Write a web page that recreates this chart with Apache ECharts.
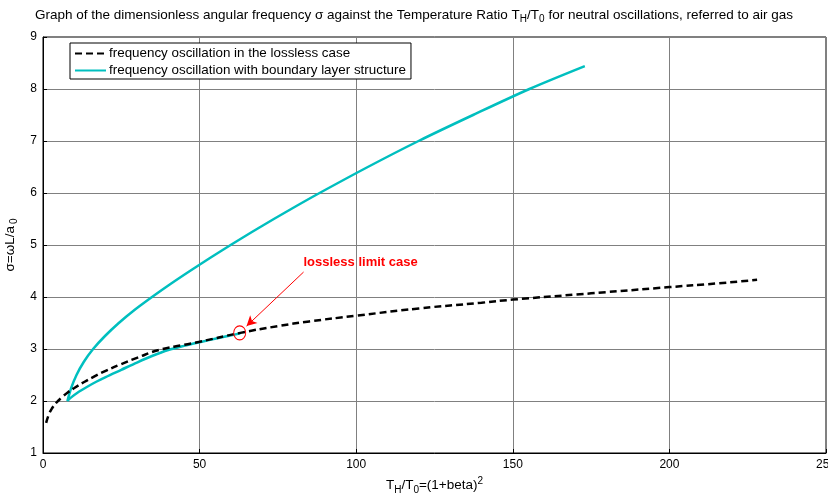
<!DOCTYPE html>
<html><head><meta charset="utf-8">
<script src="https://cdn.jsdelivr.net/npm/echarts@6/dist/echarts.min.js"></script>
<style>html,body{margin:0;padding:0;background:#fff}#c{width:828px;height:493px}</style>
</head><body><div id="c"></div>
<script>
// T_H/T_0 and sigma, lossless case
const losslessT = [1,2,3,4,6,8,10,13,16,20,25,30,37,45,50,63,75,85,100,120,140,150,175,200,215,228];
const losslessS = [1.58,1.76,1.87,1.95,2.07,2.17,2.25,2.36,2.46,2.58,2.71,2.83,2.98,3.08,3.14,3.31,3.44,3.53,3.64,3.78,3.89,3.95,4.07,4.19,4.26,4.33];
// boundary layer: upper branch (from cusp outward)
const upperT = [7.8,9.0,10.7,13.0,16.0,19.8,24.2,29.2,34.8,40.7,46.9,53.3,59.9,66.7,73.7,80.9,88.3,103.7,119.9,137.3,155.3,173];
const upperS = [2.0,2.25,2.5,2.75,3.0,3.25,3.5,3.75,4.0,4.25,4.5,4.75,5.0,5.25,5.5,5.75,6.0,6.5,7.0,7.5,8.0,8.44];
// boundary layer: lower branch (from cusp to lossless limit)
const lowerT = [7.8,9,11,14,17,20,25,30,35,40,45,50,56,63];
const lowerS = [2.0,2.07,2.16,2.27,2.37,2.46,2.6,2.74,2.87,2.98,3.06,3.13,3.21,3.3];
const xTicks = [0,50,100,150,200,250];
const yTicks = [1,2,3,4,5,6,7,8,9];
const limitPoint = [62.8,3.31];
const annotText = 'lossless limit case';
const annotTextPos = [101.4,4.67];
const arrowFrom = [83.2,4.48];
const arrowTo = [65,3.44];

const lossless = losslessT.map((t,i)=>[t,losslessS[i]]);
const boundary = upperT.map((t,i)=>[t,upperS[i]]).reverse()
  .concat(lowerT.slice(1).map((t,i)=>[t,lowerS[i+1]]));

const F = 'Liberation Sans, Arial, sans-serif';
const chart = echarts.init(document.getElementById('c'));
chart.setOption({
  animation:false,
  textStyle:{fontFamily:F},
  title:{
    left:'center', top:1,
    text:'{a|Graph of the dimensionless angular frequency σ against the Temperature Ratio T}{s|H}{a|/T}{s|0}{a| for neutral oscillations, referred to air gas}',
    textStyle:{fontFamily:F, fontWeight:'normal', rich:{
      a:{fontSize:13.5,color:'#000',fontFamily:F,fontWeight:'normal',lineHeight:18},
      s:{fontSize:10,color:'#000',fontFamily:F,fontWeight:'normal',lineHeight:18,padding:[9,0,0,0]}
    }}
  },
  legend:{
    orient:'vertical', left:70, top:43,
    backgroundColor:'#fff', borderColor:'#000', borderWidth:1,
    padding:[4,5,2,4], itemGap:4, itemWidth:31, itemHeight:14,
    itemStyle:{opacity:0},
    textStyle:{fontSize:13.4,color:'#000',fontFamily:F, padding:[0,0,0,-2]},
    data:['frequency oscillation in the lossless case','frequency oscillation with boundary layer structure']
  },
  grid:{left:43,right:2,top:37,bottom:40,show:true,borderColor:'#000',borderWidth:1,containLabel:false,outerBoundsMode:'none'},
  xAxis:{
    type:'value', min:0, max:250, interval:50,
    name:'{a|T}{s|H}{a|/T}{s|0}{a|=(1+beta)}{p|2}',
    nameLocation:'middle', nameGap:23,
    nameTextStyle:{rich:{
      a:{fontSize:13.5,color:'#000',fontFamily:F,lineHeight:18},
      s:{fontSize:10,color:'#000',fontFamily:F,lineHeight:18,padding:[9,0,0,0]},
      p:{fontSize:10,color:'#000',fontFamily:F,lineHeight:18,padding:[0,0,9,0]}
    }},
    axisLine:{lineStyle:{color:'#000'}},
    axisTick:{inside:true,length:4,lineStyle:{color:'#000'}},
    axisLabel:{color:'#000',fontSize:12,fontFamily:F,margin:6,showMaxLabel:true},
    splitLine:{lineStyle:{color:'#808080',width:1}}
  },
  yAxis:{
    type:'value', min:1, max:9, interval:1,
    name:'{a|σ=ωL/a}{s|0}',
    nameLocation:'middle', nameGap:19, nameRotate:90,
    nameTextStyle:{rich:{
      a:{fontSize:13.5,color:'#000',fontFamily:F,lineHeight:18},
      s:{fontSize:10,color:'#000',fontFamily:F,lineHeight:18,padding:[9,0,0,2]}
    }},
    axisLine:{lineStyle:{color:'#000'}},
    axisTick:{inside:true,length:4,lineStyle:{color:'#000'}},
    axisLabel:{color:'#000',fontSize:12,fontFamily:F,margin:6},
    splitLine:{lineStyle:{color:'#808080',width:1}}
  },
  series:[
    {
      name:'frequency oscillation in the lossless case', type:'line',
      data:lossless, showSymbol:false, symbol:'none', smooth:true,
      lineStyle:{color:'#000',width:2.5,type:[7,4]}, itemStyle:{color:'#000'},
      z:3
    },
    {
      name:'frequency oscillation with boundary layer structure', type:'line',
      data:boundary, showSymbol:false, symbol:'none', smooth:0.3,
      lineStyle:{color:'#00BFBF',width:2.5}, itemStyle:{color:'#00BFBF'},
      z:2,
      markPoint:{
        silent:true,
        data:[
          {coord:limitPoint, symbol:'circle', symbolSize:[12,14],
           itemStyle:{color:'rgba(0,0,0,0)',borderColor:'#ff0000',borderWidth:1,opacity:1}, label:{show:false}},
          {coord:annotTextPos, symbol:'circle', symbolSize:0,
           label:{show:true,position:'inside',formatter:annotText,color:'#ff0000',fontWeight:'bold',fontSize:13,fontFamily:F}}
        ]
      },
      markLine:{
        silent:true, symbol:['none','arrow'], symbolSize:[8,10],
        label:{show:false},
        lineStyle:{color:'#ff0000',width:1,type:'solid'},
        data:[[{coord:arrowFrom},{coord:arrowTo}]]
      }
    }
  ]
});
</script></body></html>
